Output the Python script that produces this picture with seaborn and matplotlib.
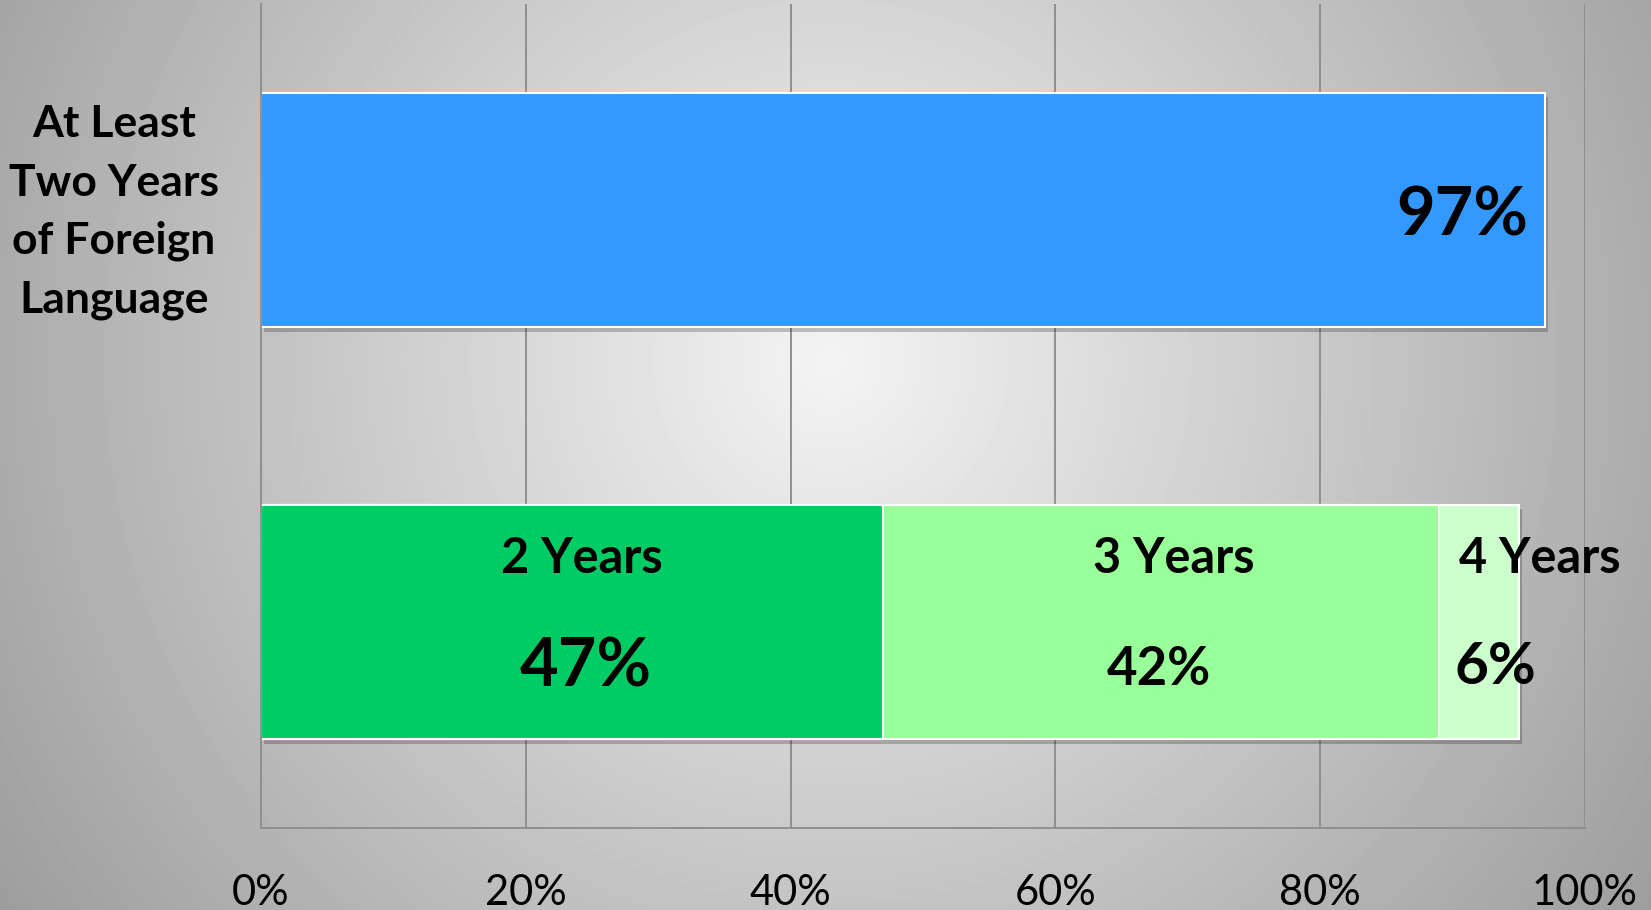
import numpy as np
import pandas as pd
import matplotlib
matplotlib.use("Agg")
import matplotlib.pyplot as plt
import seaborn as sns
from matplotlib import patheffects as pe

# ---- data ----
categories = ["At Least\nTwo Years\nof Foreign\nLanguage", "Years Taken"]
top_values = [97]
breakdown_labels = ["2 Years", "3 Years", "4 Years"]
breakdown_values = [47, 42, 6]
x_ticks = [0, 20, 40, 60, 80, 100]
x_tick_labels = ["0%", "20%", "40%", "60%", "80%", "100%"]

# ---- style ----
sns.set_style("white")
plt.rcParams["font.family"] = ["Lato", "DejaVu Sans"]
plt.rcParams["text.color"] = "black"
plt.rcParams["xtick.color"] = "black"
plt.rcParams["ytick.color"] = "black"

top_color = "#3399FF"
breakdown_colors = ["#00CC66", "#99FF99", "#CCFFCC"]
grid_color = "#8F8F8F"

fig = plt.figure(figsize=(16.51, 9.10), dpi=100)

# radial gradient background
bg = fig.add_axes([0, 0, 1, 1], zorder=-10)
W, H = 1651, 910
yy, xx = np.mgrid[0:H, 0:W]
r = np.hypot(xx - 830, yy - 360) / 850
v = np.clip(0.955 - 0.29 * r, 0, 1)
bg.imshow(v, cmap="gray", vmin=0, vmax=1, aspect="auto", interpolation="bilinear")
bg.axis("off")

ax = fig.add_axes([0.1581, 0.0901, 0.8019, 0.9055])
ax.set_facecolor("none")

shadow = [pe.SimplePatchShadow(offset=(2, -3), shadow_rgbFace="black", alpha=0.22, rho=0.5), pe.Normal()]

top_df = pd.DataFrame({"cat": [categories[0]], "value": top_values})
sns.barplot(data=top_df, x="value", y="cat", order=categories, color=top_color,
            saturation=1, width=0.57, edgecolor="white", linewidth=1.5, ax=ax)
ax.patches[-1].set_path_effects(shadow)

cum = np.cumsum(breakdown_values)
for i in range(len(breakdown_values) - 1, -1, -1):
    df = pd.DataFrame({"cat": [categories[1]], "value": [cum[i]]})
    sns.barplot(data=df, x="value", y="cat", order=categories, color=breakdown_colors[i],
                saturation=1, width=0.57, edgecolor="white", linewidth=1.5, ax=ax)
    if i == len(breakdown_values) - 1:
        ax.patches[-1].set_path_effects(shadow)

# axes formatting
ax.set_xlim(0, 100)
ax.set_ylim(1.5, -0.5)
ax.set_xticks(x_ticks)
ax.set_xticklabels(x_tick_labels, fontsize=30, color="black")
ax.set_yticks([0, 1])
ax.set_yticklabels(["", ""])
ax.set_xlabel("")
ax.set_ylabel("")
ax.tick_params(axis="x", length=0, pad=33)
ax.tick_params(axis="y", length=0)
ax.grid(axis="x", color=grid_color, linewidth=1.4)
ax.grid(axis="y", visible=False)
ax.set_axisbelow(True)
for s in ["top", "right"]:
    ax.spines[s].set_visible(False)
for s in ["left", "bottom"]:
    ax.spines[s].set_color(grid_color)
    ax.spines[s].set_linewidth(1.4)

# category label for the top bar
ax.annotate(categories[0], xy=(0, 0), xycoords=ax.get_yaxis_transform(),
            xytext=(-106, -1.5), textcoords="offset points", ha="center", va="center",
            multialignment="center", linespacing=1.55, fontsize=32,
            fontweight="bold", color="black")

# value labels
ax.annotate(f"{top_values[0]}%", xy=(top_values[0], 0), xytext=(-12, -5),
            textcoords="offset points", ha="right", va="center",
            fontsize=48, fontweight="bold", color="black")

lefts = cum - np.array(breakdown_values)
year_offsets = [(7, 46), (9, 46), (44, 46)]
pct_offsets = [(10, -33), (-2, -34), (12, -33)]
pct_sizes = [48, 38, 42]
for i, (lab, val) in enumerate(zip(breakdown_labels, breakdown_values)):
    cx = lefts[i] + val / 2
    ax.annotate(lab, xy=(cx, 1), xytext=year_offsets[i], textcoords="offset points",
                ha="center", va="center", fontsize=35, fontweight="bold", color="black")
    ax.annotate(f"{val}%", xy=(cx, 1), xytext=pct_offsets[i], textcoords="offset points",
                ha="center", va="center", fontsize=pct_sizes[i], fontweight="bold",
                color="black")

fig.savefig("out.png", dpi=100)
